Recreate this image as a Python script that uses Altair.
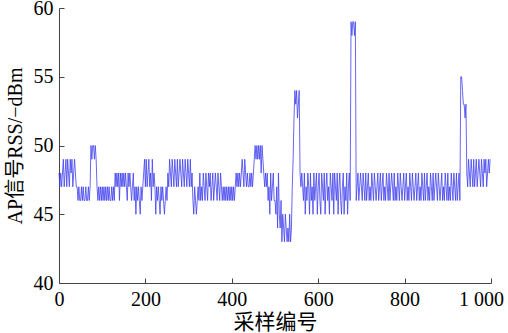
import altair as alt
import pandas as pd

# RSS values, one per two samples (samples 0, 2, ..., 998)
rss_rows = [
    [48,47,48,47,48,49,47,48,49,47,49,48,47,49,48,49,47,48,49,48,47,47,46,47,46],
    [46,47,46,47,46,46,47,46,46,47,46,47,50,49,50,50,49,50,49,47,46,47,46,47,46],
    [47,46,47,46,47,46,47,46,47,46,46,47,46,47,46,48,47,48,47,48,46,48,47,48,47],
    [48,47,48,47,46,48,47,48,47,46,47,48,46,47,45,47,46,47,46,45,47,46,47,48,49],
    [47,49,47,48,49,47,48,46,49,47,48,47,45,47,46,47,46,45,47,46,47,46,45,46,47],
    [46,48,47,49,48,47,49,48,47,49,48,47,49,47,48,49,48,47,49,48,47,49,48,47,49],
    [48,47,49,47,48,46,45,47,46,45,46,47,46,48,46,47,46,48,47,46,48,47,46,48,47],
    [48,46,47,48,46,47,48,47,46,48,47,46,48,47,46,47,46,47,46,47,46,47,46,47,46],
    [47,46,47,46,47,48,47,48,47,48,47,48,49,48,47,49,48,47,48,47,47,48,47,48,47],
    [48,49,50,49,50,49,50,49,50,48,50,49,48,47,48,47,48,46,47,45,48,46,47,48,46],
    [46,45,47,44,48,45,44,46,43,45,44,43,45,44,43,44,43,45,43,44,47,49,52,54,53],
    [54,52,53,54,48,47,48,47,46,48,45,47,46,48,47,45,48,46,47,45,48,46,47,48,45],
    [47,48,46,45,48,47,46,48,45,47,48,46,47,45,48,47,46,48,45,48,47,46,48,45,47],
    [48,46,45,47,48,45,47,46,48,45,47,48,46,59,58,59,59,58,59,46,47,48,46,47,48],
    [47,46,48,47,46,48,46,47,48,46,47,46,48,47,46,48,47,46,47,48,46,47,48,46,47],
    [48,46,47,46,48,47,46,48,46,47,48,47,46,48,46,47,46,48,47,46,48,47,46,47,48],
    [46,47,48,46,47,46,48,47,46,48,47,46,47,48,46,47,48,46,47,46,48,47,46,48,46],
    [47,48,46,47,46,48,47,46,48,46,47,48,47,46,48,47,46,47,48,46,47,46,48,47,46],
    [48,46,47,46,48,47,46,48,47,46,48,46,47,48,46,55,55,54,53,53,52,53,48,47,49],
    [48,47,49,48,47,49,47,48,49,47,48,49,48,47,49,48,47,49,48,49,47,48,49,48,49],
]
rss = [v for row in rss_rows for v in row]
samples = list(range(0, 2 * len(rss), 2))

x_ticks = [0, 200, 400, 600, 800, 1000]
y_ticks = [40, 45, 50, 55, 60]

W, H = 432, 275
FONT = "Liberation Serif, Times New Roman, serif"
TFONT = "Liberation Serif, Times New Roman, Noto Sans CJK SC, serif"

df = pd.DataFrame({"sample": samples, "rss": rss})

xscale = alt.Scale(domain=[0, 1000], nice=False, zero=False)
yscale = alt.Scale(domain=[40, 60], nice=False, zero=False)

common = dict(grid=False, ticks=True, tickSize={"expr": "-5"}, tickColor="#444444",
              tickWidth=1, labelFontSize=20, labelFont=FONT, titleFont=TFONT,
              domainColor="#444444", labelColor="black", titleColor="black",
              titleFontWeight="normal", labelOverlap=False, labelFlush=False,
              labelPadding=11)

chart = alt.Chart(df).mark_line(color="#4040f0", strokeWidth=0.8).encode(
    x=alt.X("sample:Q", scale=xscale,
            axis=alt.Axis(title="采样编号", values=x_ticks, titleFontSize=21,
                          labelExpr="datum.value == 1000 ? '1 000' : datum.label",
                          labelOffset={"condition": {"test": "datum.value == 1000", "value": -10}, "value": 0},
                          titleY=39, titleBaseline="middle", **common)),
    y=alt.Y("rss:Q", scale=yscale,
            axis=alt.Axis(title="AP信号RSS/−dBm", values=y_ticks, titleFontSize=20,
                          titleX=-44, titleBaseline="middle", **common)),
).properties(
    width=W, height=H,
    autosize=alt.AutoSizeParams(type="none"),
    padding={"left": 59, "top": 8, "right": 17, "bottom": 50},
).configure(background="white").configure_view(strokeWidth=0, strokeOpacity=0)

chart.save("out.html", embed_options={"renderer": "svg", "actions": False})
